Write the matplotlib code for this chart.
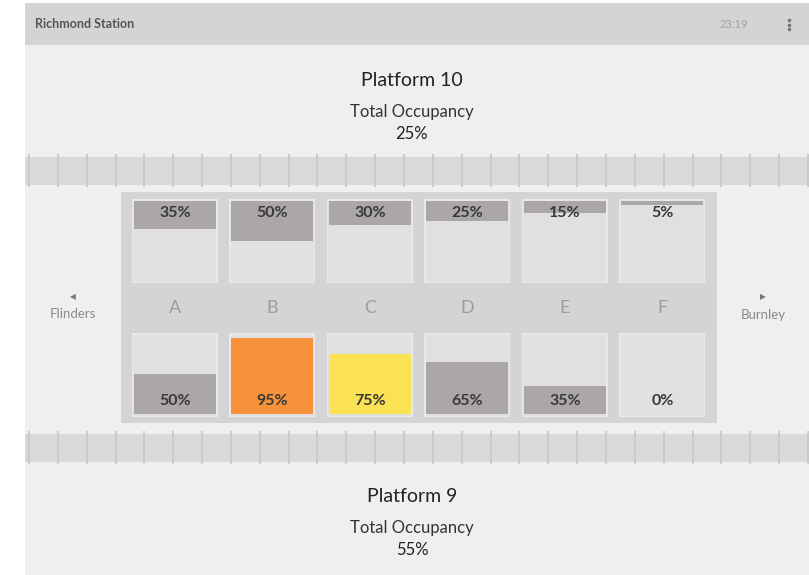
import numpy as np
import matplotlib
matplotlib.use('Agg')
import matplotlib.pyplot as plt
from matplotlib.patches import Rectangle

plt.rcParams['font.family'] = ['Lato', 'DejaVu Sans']

# data
station = 'Richmond Station'
clock = '23:19'
cars = ['A', 'B', 'C', 'D', 'E', 'F']
top_platform = 'Platform 10'
top_total = 25
top_occ = [35, 50, 30, 25, 15, 5]
bottom_platform = 'Platform 9'
bottom_total = 55
bottom_occ = [50, 95, 75, 65, 35, 0]
bottom_colors = ['#aba7a7', '#f7923a', '#fbe254', '#aba7a7', '#aba7a7', '#aba7a7']
top_colors = ['#aba7a7'] * 6
left_dest = 'Flinders'
right_dest = 'Burnley'

W, H = 809, 575
fig = plt.figure(figsize=(W / 100, H / 100), dpi=100)
ax = fig.add_axes([0, 0, 1, 1])
ax.set_xlim(0, W)
ax.set_ylim(H, 0)
ax.axis('off')

def rect(x, y, w, h, c, z=1, **kw):
    ax.add_patch(Rectangle((x, y), w, h, facecolor=c, edgecolor='none', zorder=z, **kw))

# page
rect(25, 3, W - 25, H - 3, '#efefef', 0)
rect(25, 3, W - 25, 42, '#d4d4d4', 1)
ax.text(35, 24, station, fontsize=9, color='#555555', fontweight='bold', va='center')
ax.text(734, 24, clock, fontsize=8, color='#a0a0a0', va='center', ha='center')
ax.plot([789, 789, 789], [20, 24.5, 29], 'o', ms=1.6, color='#777777', zorder=3)

# headings
def heading(y, name, total):
    ax.text(412, y, name, fontsize=14, color='#222222', ha='center', va='center')
    ax.text(412, y + 31, 'Total Occupancy', fontsize=12, color='#333333', ha='center', va='center')
    ax.text(412, y + 53, '%d%%' % total, fontsize=12, color='#222222', ha='center', va='center')

heading(81, top_platform, top_total)
heading(497, bottom_platform, bottom_total)

# tracks
ticks = 29 + 28.85 * np.arange(28)
for y0, y1 in ((157, 185), (434, 462)):
    rect(25, y0, W - 25, y1 - y0, '#d9d9d9', 1)
    ax.vlines(ticks, y0 - 3, y1 + 2, color='#c6c6c6', lw=1.2, zorder=2)

# carriage panel
rect(121, 192, 596, 231, '#d4d4d4', 1)

box_x = 132 + 97.5 * np.arange(len(cars))
box_w, box_h = 86, 84
top_y, bot_y = 199, 333
for bx in box_x:
    for by in (top_y, bot_y):
        rect(bx, by, box_w, box_h, '#e9e9e9', 2)
        rect(bx + 1.5, by + 1.5, box_w - 3, box_h - 3, '#e0e0e0', 2)

inner_w = box_w - 4
inner_h = box_h - 4
xc = box_x + box_w / 2
top_h = np.array(top_occ) / 100 * inner_h
bot_h = np.array(bottom_occ) / 100 * inner_h
ax.bar(xc, top_h, width=inner_w, bottom=top_y + 2, color=top_colors, zorder=3)
ax.bar(xc, bot_h, width=inner_w, bottom=bot_y + box_h - 3 - bot_h, color=bottom_colors, zorder=3)

for i, c in enumerate(cars):
    ax.text(xc[i], top_y + 14, '%d%%' % top_occ[i], fontsize=11.5, color='#383838',
            ha='center', va='center', fontweight='bold', zorder=4)
    ax.text(xc[i], 308, c, fontsize=13, color='#9c9c9c', ha='center', va='center', zorder=4)
    ax.text(xc[i], bot_y + box_h - 16, '%d%%' % bottom_occ[i], fontsize=11.5, color='#383838',
            ha='center', va='center', fontweight='bold', zorder=4)

# direction labels
ax.text(73, 297, '\u25C0', fontsize=5.5, color='#777777', ha='center', va='center')
ax.text(73, 314, left_dest, fontsize=9.5, color='#8a8a8a', ha='center', va='center')
ax.text(763, 297, '\u25B6', fontsize=5.5, color='#777777', ha='center', va='center')
ax.text(763, 315, right_dest, fontsize=9.5, color='#8a8a8a', ha='center', va='center')

fig.savefig('out.png', dpi=100, facecolor='white')
